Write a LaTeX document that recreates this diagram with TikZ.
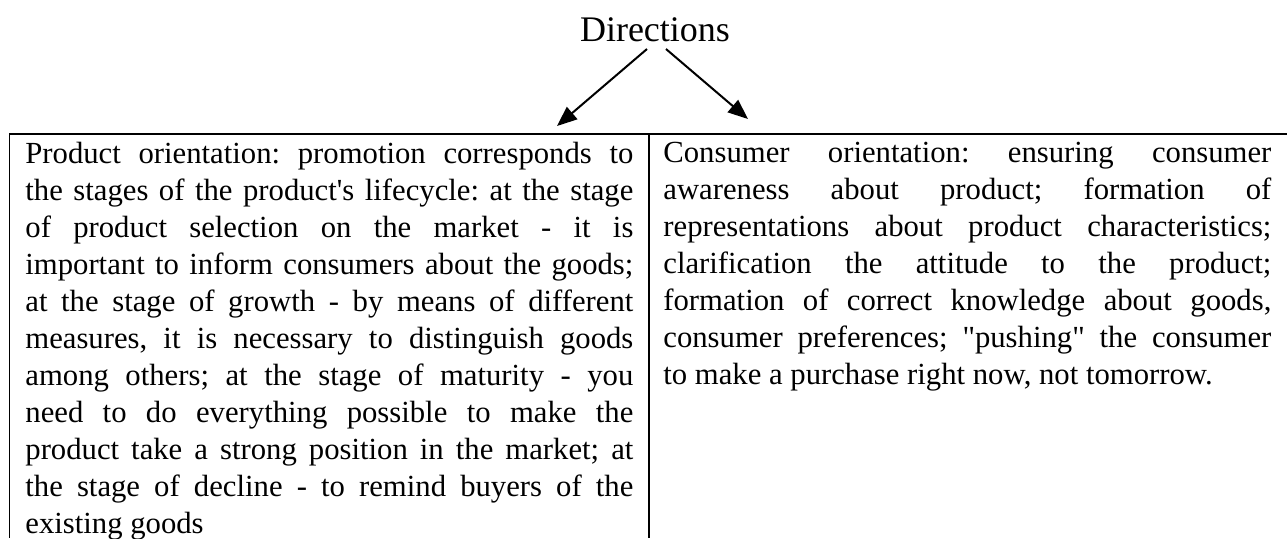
\documentclass[tikz,border=0pt]{standalone}
\usepackage{fontspec}
\setmainfont{Liberation Serif}
\usetikzlibrary{arrows.meta}
\newlength\colw
\setlength\colw{304pt}
% one justified line of a column
\newcommand\jline[1]{\makebox[\colw][s]{#1}\\}
% plain interword glue (with stretch) inside the column nodes
\newcommand\plainspaces{\spaceskip=0pt\xspaceskip=0pt\frenchspacing}
\begin{document}
\begin{tikzpicture}[x=0.5pt,y=-0.5pt,
  rule/.style={line width=0.75pt},
  link/.style={line width=1pt,-{Triangle[length=10pt,width=8pt]}},
  colbox/.style={anchor=north west,inner sep=0pt,text width=\colw,align=left,
    font=\fontsize{15.35pt}{18.5pt}\selectfont},
  title/.style={anchor=base,inner sep=0pt,font=\fontsize{18pt}{21pt}\selectfont}]
\useasboundingbox (0,0) rectangle (1287,538);

% heading and its two arrows
\node[title] (dir) at (655,41) {Directions};
\coordinate (ls) at (647,49);
\coordinate (rs) at (666,49);
\coordinate (lt) at (557,126);
\coordinate (rt) at (748,119);
\draw[link] (ls) -- (lt);
\draw[link] (rs) -- (rt);

% table frame
\coordinate (tl) at (9.5,134);
\coordinate (tr) at (1287,134);
\coordinate (bl) at (9.5,538);
\coordinate (mt) at (649,134);
\coordinate (mb) at (649,538);
\draw[rule] (tr) -- (tl) -- (bl);
\draw[rule] (mt) -- (mb);

% left column
\node[colbox] (prod) at (25,142) {\plainspaces
\jline{Product orientation: promotion corresponds to}
\jline{the stages of the product\textquotesingle s lifecycle: at the stage}
\jline{of product selection on the market - it is}
\jline{important to inform consumers about the goods;}
\jline{at the stage of growth - by means of different}
\jline{measures, it is necessary to distinguish goods}
\jline{among others; at the stage of maturity - you}
\jline{need to do everything possible to make the}
\jline{product take a strong position in the market; at}
\jline{the stage of decline - to remind buyers of the}
existing goods};

% right column
\node[colbox] (cons) at (663,142) {\plainspaces
\jline{Consumer orientation: ensuring consumer}
\jline{awareness about product; formation of}
\jline{representations about product characteristics;}
\jline{clarification the attitude to the product;}
\jline{formation of correct knowledge about goods,}
\jline{consumer preferences; \textquotedbl pushing\textquotedbl{} the consumer}
to make a purchase right now, not tomorrow.};
\end{tikzpicture}
\end{document}
